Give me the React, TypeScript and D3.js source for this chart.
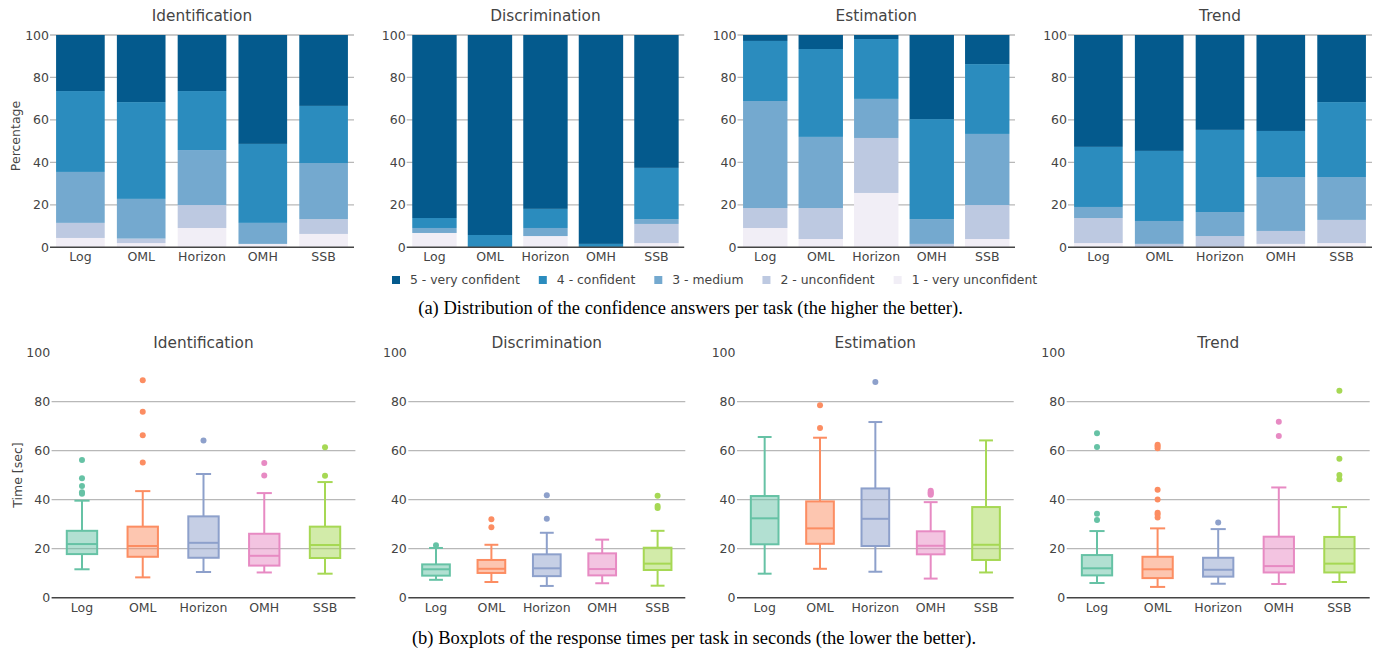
import React, { useEffect, useRef } from "react";
import * as d3 from "d3";

// Categories
const tasks = ["Identification", "Discrimination", "Estimation", "Trend"];
const techniques = ["Log", "OML", "Horizon", "OMH", "SSB"];
const confidenceLevels = [
  "1 - very unconfident",
  "2 - unconfident",
  "3 - medium",
  "4 - confident",
  "5 - very confident",
];
const confidenceColors = ["#f1eef6", "#bdc9e1", "#74a9cf", "#2b8cbe", "#045a8d"];
const techniqueColors = ["#66c2a5", "#fc8d62", "#8da0cb", "#e78ac3", "#a6d854"];
const yTicks = [0, 20, 40, 60, 80, 100];

// Confidence shares in percent; rows = techniques, columns = levels 1..5
const confIdentification = [
  [4.4, 7.1, 24.0, 38.1, 26.4],
  [2.0, 2.1, 18.7, 45.6, 31.6],
  [9.1, 10.8, 25.9, 27.8, 26.4],
  [1.6, 0, 9.9, 37.2, 51.3],
  [6.3, 7.0, 26.4, 26.9, 33.4],
];
const confDiscrimination = [
  [6.75, 0, 2.35, 4.7, 86.2],
  [0, 0, 0, 5.8, 94.2],
  [5.3, 0, 3.8, 9.0, 81.9],
  [0, 0, 0, 1.6, 98.4],
  [2.0, 9.0, 2.3, 24.1, 62.6],
];
const confEstimation = [
  [9.1, 9.4, 50.4, 28.3, 2.8],
  [3.9, 14.6, 33.5, 41.4, 6.6],
  [25.6, 25.9, 18.4, 28.2, 1.9],
  [0, 1.6, 11.7, 47.1, 39.6],
  [3.9, 16.0, 33.5, 32.9, 13.7],
];
const confTrend = [
  [2.0, 11.8, 5.2, 28.3, 52.7],
  [0, 1.6, 10.8, 33.0, 54.6],
  [0, 5.3, 11.3, 38.7, 44.7],
  [1.6, 6.1, 25.4, 21.7, 45.2],
  [2.0, 10.9, 20.2, 35.3, 31.6],
];

// Response times in seconds: [lower whisker, Q1, median, Q3, upper whisker]
const timeIdentification = [
  [11.6, 17.8, 21.9, 27.3, 39.6],
  [8.3, 16.7, 21.1, 29.0, 43.5],
  [10.5, 16.3, 22.4, 33.2, 50.5],
  [10.3, 13.1, 17.1, 26.1, 42.7],
  [9.8, 16.2, 21.5, 29.0, 47.2],
];
const timeDiscrimination = [
  [7.3, 9.0, 11.6, 13.6, 20.3],
  [6.4, 10.1, 11.8, 15.4, 21.6],
  [4.8, 8.8, 12.0, 17.7, 26.5],
  [5.9, 9.1, 11.7, 18.1, 23.7],
  [4.9, 11.3, 13.9, 20.4, 27.3],
];
const timeEstimation = [
  [9.8, 21.8, 32.4, 41.5, 65.6],
  [11.8, 22.0, 28.3, 39.3, 65.3],
  [10.6, 21.1, 32.2, 44.6, 71.7],
  [7.8, 17.7, 21.2, 27.1, 39.0],
  [10.3, 15.4, 21.6, 37.0, 64.2],
];
const timeTrend = [
  [6.0, 9.1, 12.0, 17.4, 27.2],
  [4.4, 8.0, 11.6, 16.7, 28.3],
  [5.7, 8.6, 11.4, 16.3, 28.0],
  [5.6, 10.3, 12.9, 24.9, 45.0],
  [6.4, 10.3, 13.9, 24.8, 37.0],
];

// Outliers in seconds, per technique
const outIdentification = [
  [56.2, 48.8, 45.6, 43.0, 42.4],
  [88.8, 75.9, 66.3, 55.2],
  [64.2],
  [55.0, 49.9],
  [61.4, 49.8],
];
const outDiscrimination = [[21.4], [32.0, 28.8], [41.8, 32.2], [], [41.6, 37.4, 36.6]];
const outEstimation = [[], [78.6, 69.3], [88.0], [43.7, 43.0, 42.5, 42.0], []];
const outTrend = [
  [67.1, 61.5, 34.3, 31.7],
  [62.4, 61.8, 61.0, 44.1, 40.1, 34.7, 34.0, 32.7],
  [30.7],
  [71.8, 66.0],
  [84.5, 56.7, 50.1, 48.3],
];

const confidenceByTask = [confIdentification, confDiscrimination, confEstimation, confTrend];
const timesByTask = [timeIdentification, timeDiscrimination, timeEstimation, timeTrend];
const outliersByTask = [outIdentification, outDiscrimination, outEstimation, outTrend];

const FONT = "'DejaVu Sans', Verdana, sans-serif";
const TEXT = "#444";
const GRID = "#b8b8b8";

export default function App() {
  const ref = useRef<SVGSVGElement>(null);

  useEffect(() => {
    const svg = d3.select(ref.current);
    svg.selectAll("*").remove();

    const topRanges: [number, number][] = [
      [50, 354],
      [406.7, 684.2],
      [737.5, 1015],
      [1068, 1372],
    ];
    const bottomRanges: [number, number][] = [
      [51.6, 355.4],
      [408.3, 685.3],
      [737, 1013.7],
      [1066.7, 1369.7],
    ];
    const yTop = d3.scaleLinear().domain([0, 100]).range([247.3, 35]);
    const yBot = d3.scaleLinear().domain([0, 100]).range([597.7, 352.7]);

    const stack = d3
      .stack<number[], number>()
      .keys(d3.range(confidenceLevels.length))
      .value((d, k) => d[k]);

    // ---- Row 1: stacked confidence bars ----
    tasks.forEach((task, t) => {
      const [x0, x1] = topRanges[t];
      const x = d3.scaleBand<string>().domain(techniques).range([x0, x1]).paddingInner(0.2).paddingOuter(0.1);
      const g = svg.append("g");

      g.selectAll("line.grid")
        .data(yTicks.filter((v) => v > 0))
        .join("line")
        .attr("x1", x0)
        .attr("x2", x1)
        .attr("y1", (v) => yTop(v))
        .attr("y2", (v) => yTop(v))
        .attr("stroke", GRID)
        .attr("stroke-width", 1.3);

      const series = stack(confidenceByTask[t]);
      series.forEach((s, k) => {
        g.append("g")
          .attr("fill", confidenceColors[k])
          .selectAll("rect")
          .data(s)
          .join("rect")
          .attr("x", (_d, i) => x(techniques[i])!)
          .attr("width", x.bandwidth())
          .attr("y", (d) => yTop(d[1]))
          .attr("height", (d) => Math.max(0, yTop(d[0]) - yTop(d[1])));
      });

      g.append("line")
        .attr("x1", x0)
        .attr("x2", x1)
        .attr("y1", yTop(0))
        .attr("y2", yTop(0))
        .attr("stroke", "#444")
        .attr("stroke-width", 1.5);

      g.selectAll("text.ytick")
        .data(yTicks)
        .join("text")
        .attr("x", x0 - 1)
        .attr("y", (v) => yTop(v))
        .attr("dy", "0.36em")
        .attr("text-anchor", "end")
        .attr("font-family", FONT)
        .attr("font-size", 12.5)
        .attr("fill", TEXT)
        .text((v) => v);

      g.selectAll("text.xtick")
        .data(techniques)
        .join("text")
        .attr("x", (d) => x(d)! + x.bandwidth() / 2)
        .attr("y", 256.7)
        .attr("dy", "0.36em")
        .attr("text-anchor", "middle")
        .attr("font-family", FONT)
        .attr("font-size", 12.5)
        .attr("fill", TEXT)
        .text((d) => d);

      g.append("text")
        .attr("x", (x0 + x1) / 2)
        .attr("y", 15)
        .attr("dy", "0.36em")
        .attr("text-anchor", "middle")
        .attr("font-family", FONT)
        .attr("font-size", 15.3)
        .attr("fill", TEXT)
        .text(task);
    });

    svg.append("text")
      .attr("transform", "translate(15,136) rotate(-90)")
      .attr("dy", "0.36em")
      .attr("text-anchor", "middle")
      .attr("font-family", FONT)
      .attr("font-size", 12.5)
      .attr("fill", TEXT)
      .text("Percentage");

    // ---- Legend ----
    const legend = svg.append("g");
    let lx = 392;
    [...confidenceLevels].reverse().forEach((label, i) => {
      const color = confidenceColors[confidenceLevels.length - 1 - i];
      legend.append("rect").attr("x", lx).attr("y", 276).attr("width", 8).attr("height", 8).attr("fill", color);
      const txt = legend
        .append("text")
        .attr("x", lx + 18)
        .attr("y", 280)
        .attr("dy", "0.36em")
        .attr("font-family", FONT)
        .attr("font-size", 12.4)
        .attr("fill", TEXT)
        .text(label);
      const w = (txt.node() as SVGTextElement).getComputedTextLength();
      lx = lx + 18 + w + 19;
    });

    // ---- Row 2: response time boxplots ----
    tasks.forEach((task, t) => {
      const [x0, x1] = bottomRanges[t];
      const x = d3.scaleBand<string>().domain(techniques).range([x0, x1]).padding(0);
      const boxW = x.bandwidth() * 0.5;
      const capW = boxW * 0.5;
      const g = svg.append("g");

      g.selectAll("line.grid")
        .data(yTicks.filter((v) => v > 0 && v < 100))
        .join("line")
        .attr("x1", x0)
        .attr("x2", x1)
        .attr("y1", (v) => yBot(v))
        .attr("y2", (v) => yBot(v))
        .attr("stroke", GRID)
        .attr("stroke-width", 1.3);

      timesByTask[t].forEach((stats, i) => {
        const [lo, q1, med, q3, hi] = stats;
        const cx = x(techniques[i])! + x.bandwidth() / 2;
        const color = techniqueColors[i];
        const b = g.append("g").attr("stroke", color).attr("stroke-width", 2);
        b.append("line").attr("x1", cx).attr("x2", cx).attr("y1", yBot(q3)).attr("y2", yBot(hi));
        b.append("line").attr("x1", cx).attr("x2", cx).attr("y1", yBot(q1)).attr("y2", yBot(lo));
        b.append("line").attr("x1", cx - capW / 2).attr("x2", cx + capW / 2).attr("y1", yBot(hi)).attr("y2", yBot(hi));
        b.append("line").attr("x1", cx - capW / 2).attr("x2", cx + capW / 2).attr("y1", yBot(lo)).attr("y2", yBot(lo));
        b.append("rect")
          .attr("x", cx - boxW / 2)
          .attr("width", boxW)
          .attr("y", yBot(q3))
          .attr("height", yBot(q1) - yBot(q3))
          .attr("fill", color)
          .attr("fill-opacity", 0.5);
        b.append("line").attr("x1", cx - boxW / 2).attr("x2", cx + boxW / 2).attr("y1", yBot(med)).attr("y2", yBot(med));
        g.selectAll(null)
          .data(outliersByTask[t][i])
          .join("circle")
          .attr("cx", cx)
          .attr("cy", (v) => yBot(v))
          .attr("r", 3)
          .attr("fill", color);
      });

      g.append("line")
        .attr("x1", x0)
        .attr("x2", x1)
        .attr("y1", yBot(0))
        .attr("y2", yBot(0))
        .attr("stroke", "#444")
        .attr("stroke-width", 1.5);

      g.selectAll("text.ytick")
        .data(yTicks)
        .join("text")
        .attr("x", x0 - 1.5)
        .attr("y", (v) => yBot(v))
        .attr("dy", "0.36em")
        .attr("text-anchor", "end")
        .attr("font-family", FONT)
        .attr("font-size", 12.5)
        .attr("fill", TEXT)
        .text((v) => v);

      g.selectAll("text.xtick")
        .data(techniques)
        .join("text")
        .attr("x", (d) => x(d)! + x.bandwidth() / 2)
        .attr("y", 607.7)
        .attr("dy", "0.36em")
        .attr("text-anchor", "middle")
        .attr("font-family", FONT)
        .attr("font-size", 12.5)
        .attr("fill", TEXT)
        .text((d) => d);

      g.append("text")
        .attr("x", (x0 + x1) / 2)
        .attr("y", 342.7)
        .attr("dy", "0.36em")
        .attr("text-anchor", "middle")
        .attr("font-family", FONT)
        .attr("font-size", 15.3)
        .attr("fill", TEXT)
        .text(task);
    });

    svg.append("text")
      .attr("transform", "translate(17,475) rotate(-90)")
      .attr("dy", "0.36em")
      .attr("text-anchor", "middle")
      .attr("font-family", FONT)
      .attr("font-size", 12.5)
      .attr("fill", TEXT)
      .text("Time [sec]");

    // ---- Captions ----
    const serif = "'Liberation Serif', 'Times New Roman', serif";
    svg.append("text")
      .attr("x", 690.5)
      .attr("y", 308)
      .attr("dy", "0.33em")
      .attr("text-anchor", "middle")
      .attr("font-family", serif)
      .attr("font-size", 18.5)
      .attr("fill", "#000")
      .text("(a) Distribution of the confidence answers per task (the higher the better).");
    svg.append("text")
      .attr("x", 694)
      .attr("y", 638)
      .attr("dy", "0.33em")
      .attr("text-anchor", "middle")
      .attr("font-family", serif)
      .attr("font-size", 18.5)
      .attr("fill", "#000")
      .text("(b) Boxplots of the response times per task in seconds (the lower the better).");
  }, []);

  return (
    <svg
      ref={ref}
      width={1380}
      height={649}
      style={{ position: "absolute", left: 0, top: 0, display: "block", background: "#fff" }}
    />
  );
}
